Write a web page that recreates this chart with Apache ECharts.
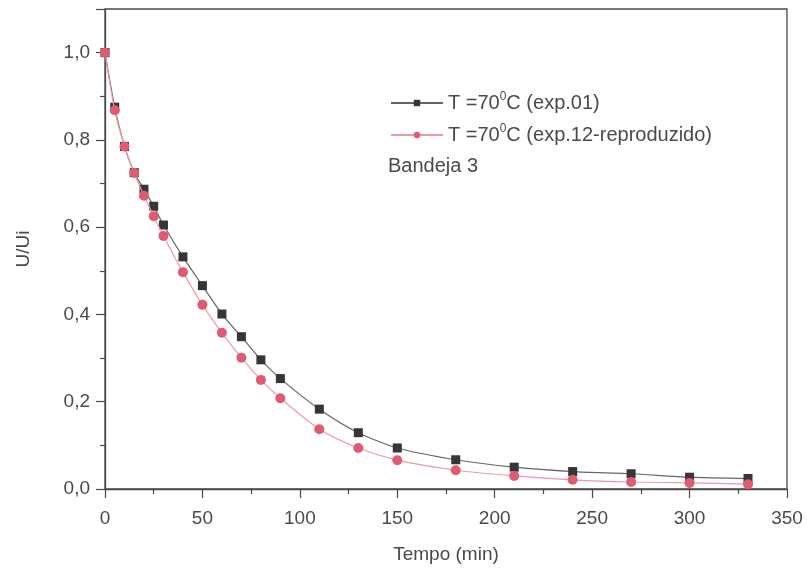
<!DOCTYPE html>
<html>
<head>
<meta charset="utf-8">
<script src="https://cdn.jsdelivr.net/npm/echarts@6/dist/echarts.min.js"></script>
<style>html,body{margin:0;padding:0;background:#fff;}#c{width:807px;height:572px;}</style>
</head>
<body>
<div id="c"></div>
<script>
const tempo = [0, 5, 10, 15, 20, 25, 30, 40, 50, 60, 70, 80, 90, 110, 130, 150, 180, 210, 240, 270, 300, 330];
const exp01 = [1.0, 0.875, 0.785, 0.725, 0.687, 0.648, 0.605, 0.532, 0.466, 0.401, 0.349, 0.296, 0.253, 0.183, 0.129, 0.094, 0.067, 0.050, 0.040, 0.035, 0.027, 0.024];
const exp12 = [1.0, 0.868, 0.785, 0.724, 0.672, 0.625, 0.580, 0.497, 0.422, 0.358, 0.301, 0.250, 0.208, 0.137, 0.094, 0.066, 0.043, 0.030, 0.021, 0.016, 0.014, 0.011];
const seriesNames = ['T =70°C (exp.01)', 'T =70°C (exp.12-reproduzido)'];
const xTitle = 'Tempo (min)';
const yTitle = 'U/Ui';
const note = 'Bandeja 3';

const txt = '#4a4a4a';
const axisCol = '#4a4a4a';
const font = 'Liberation Sans';
const chart = echarts.init(document.getElementById('c'));
chart.setOption({
  animation: false,
  backgroundColor: '#fff',
  textStyle: { fontFamily: font },
  grid: { left: 105, right: 20, top: 9, bottom: 83, show: true, borderColor: axisCol, borderWidth: 1.3 },
  title: {
    text: note, left: 383, top: 151,
    textStyle: { fontFamily: font, fontSize: 20, fontWeight: 'normal', color: txt }
  },
  legend: {
    left: 385, top: 86, orient: 'vertical', itemGap: 10,
    itemWidth: 52, itemHeight: 8,
    data: seriesNames,
    formatter: function (name) {
      const p = name.split('°');
      return '{a|' + p[0] + '}{s|0}{a|' + p[1] + '}';
    },
    textStyle: {
      fontFamily: font, color: txt,
      rich: {
        a: { fontSize: 20, color: txt, fontFamily: font },
        s: { fontSize: 12, color: txt, fontFamily: font, verticalAlign: 'bottom', padding: [0, 0, 12, 0] }
      }
    }
  },
  xAxis: {
    type: 'value', min: 0, max: 350, interval: 50,
    name: xTitle, nameLocation: 'middle', nameGap: 56,
    nameTextStyle: { fontFamily: font, fontSize: 19, color: txt },
    axisLine: { onZero: false, lineStyle: { color: axisCol, width: 1.3 } },
    axisTick: { inside: false, length: 9, lineStyle: { color: axisCol, width: 1.2 } },
    minorTick: { show: true, splitNumber: 2, length: 5, lineStyle: { color: axisCol, width: 1.2 } },
    splitLine: { show: false },
    axisLabel: { fontFamily: font, fontSize: 19, color: txt, margin: 20 }
  },
  yAxis: {
    type: 'value', min: 0, max: 1.1, interval: 0.2,
    name: yTitle, nameLocation: 'middle', nameGap: 72, nameRotate: 90,
    nameTextStyle: { fontFamily: font, fontSize: 19, color: txt },
    axisLine: { onZero: false, lineStyle: { color: axisCol, width: 1.3 } },
    axisTick: { inside: false, length: 9, lineStyle: { color: axisCol, width: 1.2 } },
    minorTick: { show: true, splitNumber: 2, length: 5, lineStyle: { color: axisCol, width: 1.2 } },
    splitLine: { show: false },
    axisLabel: {
      fontFamily: font, fontSize: 19, color: txt, margin: 15, showMaxLabel: false,
      formatter: function (v) { return v.toFixed(1).replace('.', ','); }
    }
  },
  series: [
    {
      name: seriesNames[0], type: 'line', smooth: 0.25,
      data: tempo.map((t, i) => [t, exp01[i]]),
      symbol: 'rect', symbolSize: 9,
      itemStyle: { color: '#363636' },
      lineStyle: { color: '#666', width: 1.2 },
      z: 2
    },
    {
      name: seriesNames[1], type: 'line', smooth: 0.25,
      data: tempo.map((t, i) => [t, exp12[i]]),
      symbol: 'circle', symbolSize: 10,
      itemStyle: { color: '#e05a72' },
      lineStyle: { color: '#eb9aa8', width: 1.2 },
      z: 3
    }
  ]
});
</script>
</body>
</html>
